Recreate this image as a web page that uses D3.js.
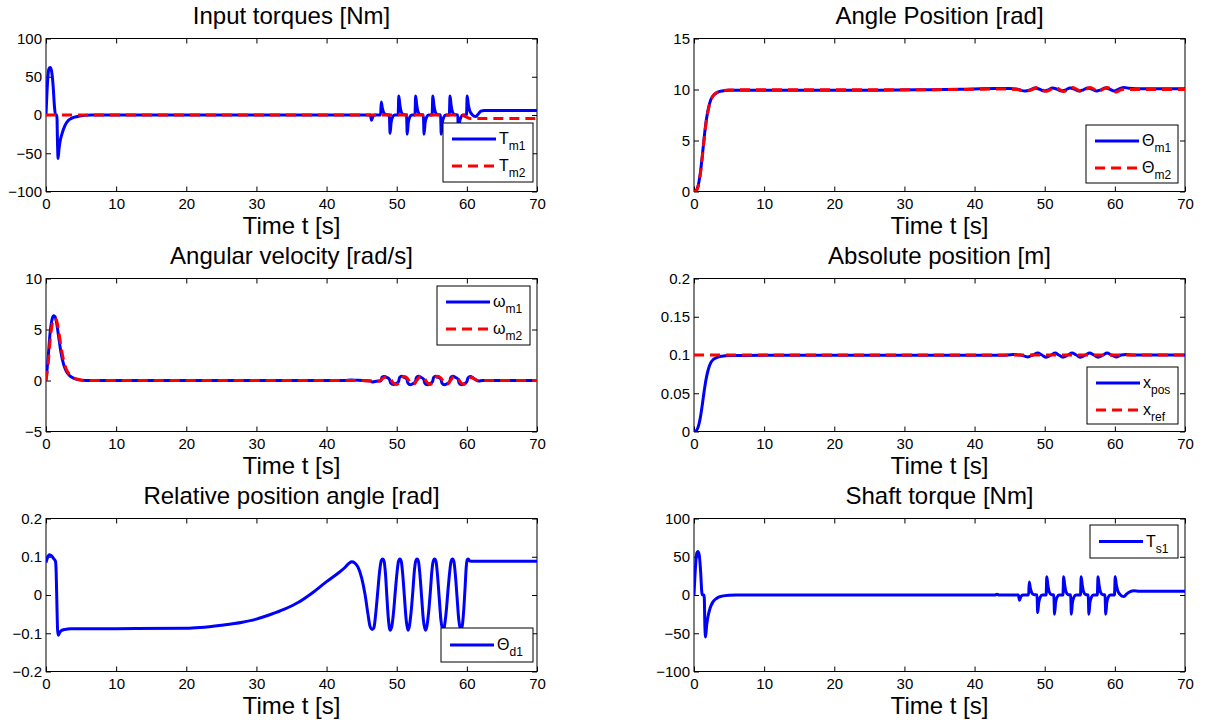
<!DOCTYPE html>
<html>
<head>
<meta charset="utf-8">
<script src="https://cdn.jsdelivr.net/npm/d3@7"></script>
<style>
  body { margin: 0; background: #fff; }
  svg { display: block; }
</style>
</head>
<body>
<svg id="fig" width="1206" height="724"></svg>
<script>
// ---- tick labels ----
const timeTicks = [0, 10, 20, 30, 40, 50, 60, 70];
const torqueTicks = [-100, -50, 0, 50, 100];
const angleTicks = [0, 5, 10, 15];
const velocityTicks = [-5, 0, 5, 10];
const positionTicks = [0, 0.05, 0.1, 0.15, 0.2];
const relAngleTicks = [-0.2, -0.1, 0, 0.1, 0.2];

// ---- series: [time s, value] ----
const torqueM1 = [
  [0,0],[0.2,40],[0.4,60],[0.6,62],[0.8,57],[1.0,40],[1.2,12],[1.35,0],[1.55,0],[1.65,-40],[1.72,-57],
  [1.85,-45],[2.0,-35],[2.3,-24],[2.7,-14],[3.2,-7],[3.7,-4],[4.5,-2],[5.5,-0.5],[6.5,0],
  [46.25,0],[46.4,-7],[46.6,-2],[46.9,0],
  [47.7,0],[47.8,17],[47.95,9],[48.15,3],[48.45,0.5],[48.95,0],[49.05,-24],[49.2,-10],[49.4,-3],[49.7,0],
  [50.2,0],[50.3,25],[50.45,13],[50.65,4],[50.95,0.5],[51.4,0],[51.5,-25],[51.65,-10],[51.85,-3],[52.15,0],
  [52.6,0],[52.7,25],[52.85,13],[53.05,4],[53.35,0.5],[53.8,0],[53.9,-25],[54.05,-10],[54.25,-3],[54.55,0],
  [55.05,0],[55.15,25],[55.3,13],[55.5,4],[55.8,0.5],[56.25,0],[56.35,-25],[56.5,-10],[56.7,-3],[57.0,0],
  [57.5,0],[57.6,25],[57.75,13],[57.95,4],[58.25,0.5],[58.7,0],[58.8,-25],[58.95,-10],[59.15,-3],[59.45,0],
  [59.95,0],[60.05,25],[60.2,14],[60.4,6],[60.7,1],[61.0,-1.5],[61.3,-2],[61.6,1],[62.0,5],[62.5,6],[70,6]
];
const torqueM2 = [[0,0],[59.2,0],[59.8,-2],[60.5,-4.5],[61,-4.5],[70,-4.5]];

const angleM1 = [
  [0,0],[0.3,0.1],[0.6,0.6],[0.9,1.8],[1.2,3.6],[1.5,5.6],[1.8,7.2],[2.1,8.3],[2.4,9.0],[2.8,9.45],
  [3.3,9.7],[4,9.85],[5,9.92],[7,9.93],[25,9.93],[32,9.97],[38,10.03],[43,10.1],[45,10.1],[46,10.05],
  [46.6,9.92],[47.2,9.85],[47.9,9.95],[48.6,10.15],[49.2,10.05],[49.9,9.85],[50.5,9.97],[51.1,10.15],
  [51.7,10.05],[52.4,9.85],[53.0,9.97],[53.6,10.15],[54.2,10.05],[54.9,9.85],[55.5,9.97],[56.1,10.15],
  [56.7,10.05],[57.4,9.85],[58.0,9.97],[58.6,10.15],[59.2,10.05],[59.9,9.85],[60.6,10.05],[61.3,10.2],
  [62,10.12],[63,10.08],[70,10.08]
];
const angleM2 = [
  [0,0],[0.3,0.05],[0.6,0.5],[0.9,1.7],[1.2,3.5],[1.5,5.5],[1.8,7.1],[2.1,8.2],[2.4,8.95],[2.8,9.45],
  [3.3,9.72],[4,9.88],[5,9.95],[7,9.97],[30,9.97],[40,10.02],[44,10.05],[46,10.0],[47.3,9.85],[48.2,10.0],
  [48.9,10.2],[49.5,10.05],[50.2,9.82],[50.9,10.02],[51.5,10.2],[52.1,10.02],[52.7,9.8],[53.3,10.0],
  [53.9,10.2],[54.6,10.02],[55.2,9.8],[55.9,10.02],[56.5,10.2],[57.1,10.0],[57.6,9.8],[58.3,10.02],
  [58.9,10.2],[59.5,10.02],[60.2,9.75],[60.8,9.95],[61.5,10.02],[62,10.0],[70,10.0]
];

const omegaM1 = [
  [0,0],[0.3,2.2],[0.6,4.8],[0.9,6.1],[1.1,6.35],[1.3,6.25],[1.55,5.5],[1.8,4.3],[2.1,2.9],[2.5,1.6],
  [2.9,0.9],[3.4,0.45],[4.0,0.2],[4.8,0.06],[5.8,0],[42.5,0],[43.5,0.06],[44.5,0.02],[46.3,-0.05],
  [46.5,-0.15],[46.9,-0.1],[47.4,-0.05],[47.75,-0.02],[47.9,0.3],[48.2,0.4],[48.6,0.3],[48.95,0.12],
  [49.15,-0.25],[49.5,-0.4],[49.9,-0.3],[50.25,-0.12],[50.4,0.28],[50.7,0.42],[51.1,0.3],[51.45,0.12],
  [51.6,-0.25],[51.95,-0.42],[52.35,-0.3],[52.65,-0.12],[52.8,0.28],[53.1,0.42],[53.5,0.3],[53.85,0.12],
  [54.0,-0.25],[54.35,-0.42],[54.75,-0.3],[55.1,-0.12],[55.25,0.28],[55.55,0.42],[55.95,0.3],[56.3,0.12],
  [56.45,-0.25],[56.8,-0.42],[57.2,-0.3],[57.55,-0.12],[57.7,0.28],[58.0,0.42],[58.4,0.3],[58.75,0.12],
  [58.9,-0.25],[59.25,-0.42],[59.65,-0.3],[60.0,-0.12],[60.15,0.25],[60.5,0.38],[60.9,0.25],[61.3,0.05],
  [61.7,-0.05],[62.2,0],[70,0]
];
const omegaM2 = [
  [0,0],[0.3,1.6],[0.6,4.0],[0.9,5.6],[1.2,6.1],[1.5,5.9],[1.8,4.9],[2.1,3.5],[2.5,2.0],[2.9,1.1],
  [3.4,0.55],[4.0,0.25],[4.8,0.08],[5.8,0],[44,0],[46.2,-0.05],[46.8,-0.12],[47.5,-0.05],[48.1,0.25],
  [48.6,0.38],[49.1,0.15],[49.6,-0.3],[50.0,-0.38],[50.5,-0.05],[51.0,0.4],[51.4,0.3],[51.9,-0.2],
  [52.4,-0.38],[52.9,0.05],[53.4,0.42],[53.9,0.25],[54.4,-0.25],[54.8,-0.38],[55.3,0.05],[55.8,0.42],
  [56.3,0.25],[56.8,-0.25],[57.2,-0.38],[57.7,0.05],[58.2,0.42],[58.7,0.25],[59.2,-0.25],[59.6,-0.38],
  [60.1,0.0],[60.6,0.3],[61.2,0.1],[61.8,-0.05],[62.4,0],[70,0]
];

const posX = [
  [0,0],[0.3,0.001],[0.6,0.006],[0.9,0.018],[1.2,0.036],[1.5,0.056],[1.8,0.072],[2.1,0.083],[2.4,0.09],
  [2.8,0.0945],[3.3,0.097],[4,0.0985],[5,0.0993],[7,0.0995],[44,0.0998],[45.5,0.1005],[46.5,0.1],
  [47.6,0.0975],[48.3,0.1],[49.0,0.1025],[49.6,0.1],[50.2,0.0972],[50.9,0.1],[51.5,0.1025],[52.0,0.1],
  [52.6,0.0972],[53.3,0.1],[53.9,0.1025],[54.5,0.1],[55.1,0.0972],[55.8,0.1],[56.4,0.1025],[57.0,0.1],
  [57.6,0.0972],[58.3,0.1],[58.9,0.1025],[59.5,0.1],[60.2,0.0975],[60.9,0.1],[61.6,0.1008],[62.5,0.1],[70,0.1]
];
const posRef = [[0,0.1],[70,0.1]];

const thetaD1 = [
  [0,0.085],[0.2,0.097],[0.5,0.105],[0.8,0.102],[1.1,0.095],[1.35,0.088],[1.45,0.06],[1.55,-0.02],
  [1.65,-0.09],[1.75,-0.105],[1.9,-0.1],[2.2,-0.093],[2.7,-0.09],[3.5,-0.0885],[10,-0.088],[20,-0.087],
  [22,-0.085],[25,-0.079],[28,-0.071],[30,-0.063],[32,-0.051],[34,-0.037],[36,-0.019],[38,0.006],
  [40,0.035],[41.5,0.055],[42.5,0.07],[43.2,0.083],[43.6,0.087],[44,0.084],[44.5,0.072],[45,0.045],
  [45.5,0.0],[45.9,-0.05],[46.2,-0.082],[46.5,-0.09],
  [46.75,-0.085],[47.0,-0.05],[47.3,0.01],[47.55,0.06],[47.8,0.09],[48.0,0.094],[48.2,0.088],[48.4,0.055],
  [48.6,-0.005],[48.8,-0.06],[49.05,-0.092],
  [49.3,-0.082],[49.55,-0.045],[49.8,0.01],[50.05,0.06],[50.25,0.088],[50.45,0.094],[50.65,0.088],
  [50.85,0.055],[51.1,-0.005],[51.35,-0.065],[51.6,-0.092],
  [51.8,-0.082],[52.05,-0.045],[52.3,0.01],[52.5,0.06],[52.7,0.088],[52.9,0.094],[53.1,0.088],
  [53.3,0.055],[53.55,-0.005],[53.8,-0.065],[54.1,-0.092],
  [54.3,-0.082],[54.55,-0.045],[54.8,0.01],[55.0,0.06],[55.2,0.088],[55.4,0.094],[55.6,0.088],
  [55.8,0.055],[56.05,-0.005],[56.3,-0.065],[56.6,-0.092],
  [56.8,-0.082],[57.05,-0.045],[57.3,0.01],[57.55,0.06],[57.75,0.088],[57.95,0.094],[58.15,0.088],
  [58.35,0.055],[58.6,-0.005],[58.85,-0.065],[59.15,-0.092],
  [59.35,-0.08],[59.55,-0.04],[59.75,0.02],[59.9,0.07],[60.05,0.092],[60.2,0.094],[60.4,0.089],
  [61,0.088],[70,0.088]
];

const shaftT1 = [
  [0,0],[0.2,35],[0.4,55],[0.55,57],[0.75,52],[0.95,30],[1.1,5],[1.2,0],[1.45,0],[1.55,-40],[1.65,-55],
  [1.8,-40],[2.0,-28],[2.3,-17],[2.7,-9],[3.2,-4.5],[4.0,-1.5],[5.0,-0.3],[6,0],
  [42.9,0],[43.2,1],[43.5,0],
  [46.25,0],[46.4,-7],[46.6,-2],[46.9,0],
  [47.7,0],[47.8,17],[47.95,9],[48.15,3],[48.45,0.5],[48.9,0],[49.0,-23],[49.15,-10],[49.35,-3],[49.65,0],
  [50.2,0],[50.3,24],[50.45,13],[50.65,4],[50.95,0.5],[51.3,0],[51.4,-25],[51.55,-10],[51.75,-3],[52.05,0],
  [52.6,0],[52.7,24],[52.85,13],[53.05,4],[53.35,0.5],[53.7,0],[53.8,-25],[53.95,-10],[54.15,-3],[54.45,0],
  [55.1,0],[55.2,24],[55.35,13],[55.55,4],[55.85,0.5],[56.2,0],[56.3,-25],[56.45,-10],[56.65,-3],[56.95,0],
  [57.5,0],[57.6,24],[57.75,13],[57.95,4],[58.25,0.5],[58.6,0],[58.7,-25],[58.85,-10],[59.05,-3],[59.35,0],
  [59.95,0],[60.05,24],[60.2,14],[60.4,6],[60.7,1],[61.0,-1.5],[61.3,-2],[61.7,1.5],[62.2,4.5],[62.7,5.5],
  [63.5,5],[70,5]
];

// ---- layout ----
const colX = [46, 694], colW = 491;
const rowY = [38.5, 278.5, 518.5], rowH = 153;
const BLUE = "#0000ff", RED = "#ff0000";
const FONT = "'Liberation Sans', Arial, Helvetica, sans-serif";

const panels = [
  { title: "Input torques [Nm]", col: 0, row: 0, yDomain: [-100, 100], yTicks: torqueTicks,
    series: [ { data: torqueM1, color: BLUE, dash: false, label: ["T", "m1"] },
              { data: torqueM2, color: RED, dash: true, label: ["T", "m2"] } ],
    legend: { x: 443, y: 123, w: 90, h: 59 } },
  { title: "Angle Position [rad]", col: 1, row: 0, yDomain: [0, 15], yTicks: angleTicks,
    series: [ { data: angleM1, color: BLUE, dash: false, label: ["\u0398", "m1"] },
              { data: angleM2, color: RED, dash: true, label: ["\u0398", "m2"] } ],
    legend: { x: 1086, y: 125, w: 92, h: 58 } },
  { title: "Angular velocity [rad/s]", col: 0, row: 1, yDomain: [-5, 10], yTicks: velocityTicks,
    series: [ { data: omegaM1, color: BLUE, dash: false, label: ["\u03C9", "m1"] },
              { data: omegaM2, color: RED, dash: true, label: ["\u03C9", "m2"] } ],
    legend: { x: 437, y: 286, w: 93, h: 59 } },
  { title: "Absolute position [m]", col: 1, row: 1, yDomain: [0, 0.2], yTicks: positionTicks,
    series: [ { data: posX, color: BLUE, dash: false, label: ["x", "pos"] },
              { data: posRef, color: RED, dash: true, label: ["x", "ref"] } ],
    legend: { x: 1087, y: 367, w: 91, h: 57 } },
  { title: "Relative position angle [rad]", col: 0, row: 2, yDomain: [-0.2, 0.2], yTicks: relAngleTicks,
    series: [ { data: thetaD1, color: BLUE, dash: false, label: ["\u0398", "d1"] } ],
    legend: { x: 441, y: 628, w: 92, h: 34 } },
  { title: "Shaft torque [Nm]", col: 1, row: 2, yDomain: [-100, 100], yTicks: torqueTicks,
    series: [ { data: shaftT1, color: BLUE, dash: false, label: ["T", "s1"] } ],
    legend: { x: 1090, y: 525, w: 88, h: 33 } }
];

const fmt = v => (v < 0 ? "\u2212" : "") + Math.abs(v);
const svg = d3.select("#fig");
svg.append("rect").attr("width", 1206).attr("height", 724).attr("fill", "#fff");

panels.forEach((p, i) => {
  const x0 = colX[p.col], y0 = rowY[p.row];
  const x = d3.scaleLinear().domain([0, 70]).range([x0, x0 + colW]);
  const y = d3.scaleLinear().domain(p.yDomain).range([y0 + rowH, y0]);
  const g = svg.append("g").attr("font-family", FONT);

  g.append("clipPath").attr("id", "clip" + i)
    .append("rect").attr("x", x0).attr("y", y0).attr("width", colW).attr("height", rowH);

  // frame
  g.append("rect").attr("x", x0).attr("y", y0).attr("width", colW).attr("height", rowH)
    .attr("fill", "none").attr("stroke", "#000").attr("stroke-width", 1);

  const styleAxis = sel => {
    sel.select(".domain").remove();
    sel.selectAll("line").attr("stroke", "#000");
    sel.selectAll("text").attr("font-family", FONT).attr("font-size", 15).attr("fill", "#000");
  };
  g.append("g").attr("transform", `translate(0,${y0 + rowH})`)
    .call(d3.axisBottom(x).tickValues(timeTicks).tickSize(-5).tickPadding(7).tickFormat(fmt))
    .call(styleAxis);
  g.append("g").attr("transform", `translate(0,${y0})`)
    .call(d3.axisTop(x).tickValues(timeTicks).tickSize(-5).tickFormat(""))
    .call(styleAxis);
  g.append("g").attr("transform", `translate(${x0},0)`)
    .call(d3.axisLeft(y).tickValues(p.yTicks).tickSize(-5).tickPadding(4).tickFormat(fmt))
    .call(styleAxis);
  g.append("g").attr("transform", `translate(${x0 + colW},0)`)
    .call(d3.axisRight(y).tickValues(p.yTicks).tickSize(-5).tickFormat(""))
    .call(styleAxis);

  // data lines
  const line = d3.line().x(d => x(d[0])).y(d => y(d[1])).curve(d3.curveMonotoneX);
  p.series.forEach(s => {
    g.append("path").attr("d", line(s.data))
      .attr("fill", "none").attr("stroke", s.color).attr("stroke-width", 3)
      .attr("stroke-linejoin", "round")
      .attr("stroke-dasharray", s.dash ? "10,6" : null)
      .attr("clip-path", `url(#clip${i})`);
  });

  // title and x label
  g.append("text").attr("x", x0 + colW / 2).attr("y", y0 - 15)
    .attr("text-anchor", "middle").attr("font-size", 24).text(p.title);
  g.append("text").attr("x", x0 + colW / 2).attr("y", y0 + rowH + 42)
    .attr("text-anchor", "middle").attr("font-size", 24).text("Time t [s]");

  // legend
  const L = p.legend;
  const lg = g.append("g");
  lg.append("rect").attr("x", L.x).attr("y", L.y).attr("width", L.w).attr("height", L.h)
    .attr("fill", "#fff").attr("stroke", "#000").attr("stroke-width", 1);
  const n = p.series.length;
  p.series.forEach((s, k) => {
    const ly = L.y + (n === 1 ? L.h / 2 : 16 + k * 27);
    lg.append("line").attr("x1", L.x + 9).attr("x2", L.x + 53).attr("y1", ly).attr("y2", ly)
      .attr("stroke", s.color).attr("stroke-width", 3)
      .attr("stroke-dasharray", s.dash ? "10,6" : null);
    const t = lg.append("text").attr("x", L.x + 56).attr("y", ly + 5).attr("font-size", 16);
    t.append("tspan").text(s.label[0]);
    t.append("tspan").attr("font-size", 12).attr("dy", 6).text(s.label[1]);
  });
});
</script>
</body>
</html>
